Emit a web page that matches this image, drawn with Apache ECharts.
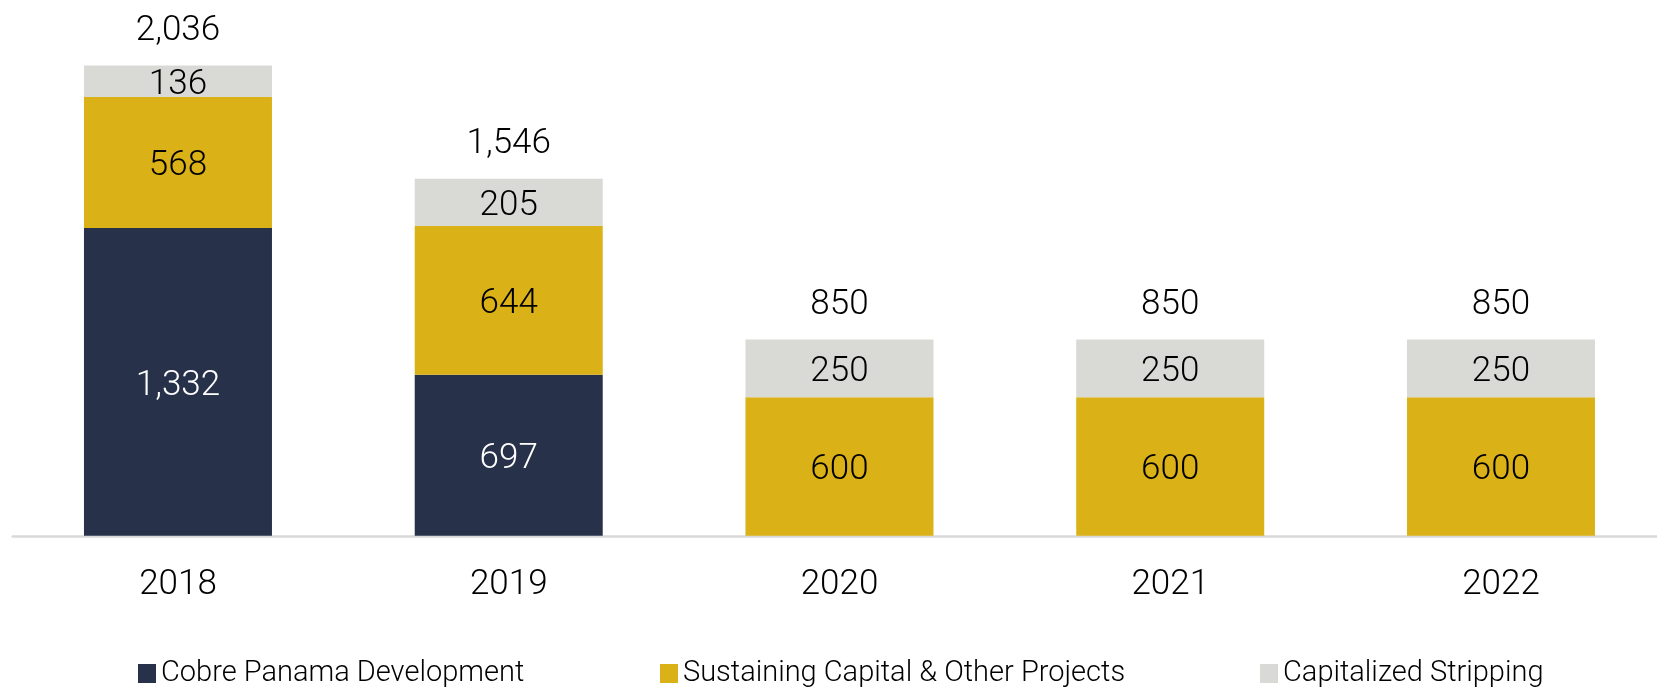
<!DOCTYPE html>
<html>
<head>
<meta charset="utf-8">
<script src="https://cdn.jsdelivr.net/npm/echarts@6/dist/echarts.min.js"></script>
<style>
  html, body { margin: 0; padding: 0; background: #fff; }
  #main { width: 1657px; height: 688px; }
</style>
</head>
<body>
<div id="main"></div>
<script>
// 数据
const categories = ['2018', '2019', '2020', '2021', '2022'];
const cobre = [1332, 697, 0, 0, 0];
const sustaining = [568, 644, 600, 600, 600];
const stripping = [136, 205, 250, 250, 250];
const totals = [2036, 1546, 850, 850, 850];

const names = ['Cobre Panama Development', 'Sustaining Capital & Other Projects', 'Capitalized Stripping'];
const colors = ['#27314a', '#dab116', '#d9d9d6'];

const numFont = 'Roboto, sans-serif';

function fmt(v) {
    return v ? Number(v).toLocaleString('en-US') : '';
}

function segLabel(color) {
    return {
        show: true,
        position: 'inside',
        offset: [0, 4],
        fontFamily: numFont,
        fontWeight: 300,
        fontSize: 35,
        color: color,
        formatter: p => fmt(p.value)
    };
}

function legendAt(left, name) {
    return {
        left: left,
        top: 659,
        padding: 0,
        data: [name],
        icon: 'rect',
        itemWidth: 18,
        itemHeight: 19,
        textStyle: { fontFamily: numFont, fontWeight: 300, fontSize: 29, color: '#000' }
    };
}

const chart = echarts.init(document.getElementById('main'));

const option = {
    animation: false,
    color: colors,
    legend: [
        legendAt(138, names[0]),
        legendAt(660, names[1]),
        legendAt(1260, names[2])
    ],
    grid: { left: 12.6, top: 4.5, width: 1653.75, bottom: 152.2, outerBoundsMode: 'none' },
    xAxis: {
        type: 'category',
        data: categories,
        axisLine: { lineStyle: { color: '#d9d9d9', width: 2.5 } },
        axisTick: { show: false },
        axisLabel: { margin: 32, fontFamily: numFont, fontWeight: 300, fontSize: 35, color: '#000' }
    },
    yAxis: {
        type: 'value',
        min: 0,
        max: 2300,
        show: false,
        splitLine: { show: false }
    },
    series: [
        { name: names[0], type: 'bar', stack: 'a', barWidth: 188, data: cobre, label: segLabel('#fff') },
        { name: names[1], type: 'bar', stack: 'a', barWidth: 188, data: sustaining, label: segLabel('#000') },
        { name: names[2], type: 'bar', stack: 'a', barWidth: 188, data: stripping, label: segLabel('#000') },
        {
            name: 'Total',
            type: 'scatter',
            symbolSize: 0,
            data: totals,
            silent: true,
            itemStyle: { opacity: 1 },
            label: {
                show: true,
                position: 'top',
                distance: 17,
                fontFamily: numFont,
                fontWeight: 300,
                fontSize: 35,
                color: '#000',
                formatter: p => fmt(p.value)
            }
        }
    ]
};

chart.setOption(option);

window.addEventListener('resize', function() {
    chart.resize();
});
</script>
</body>
</html>
